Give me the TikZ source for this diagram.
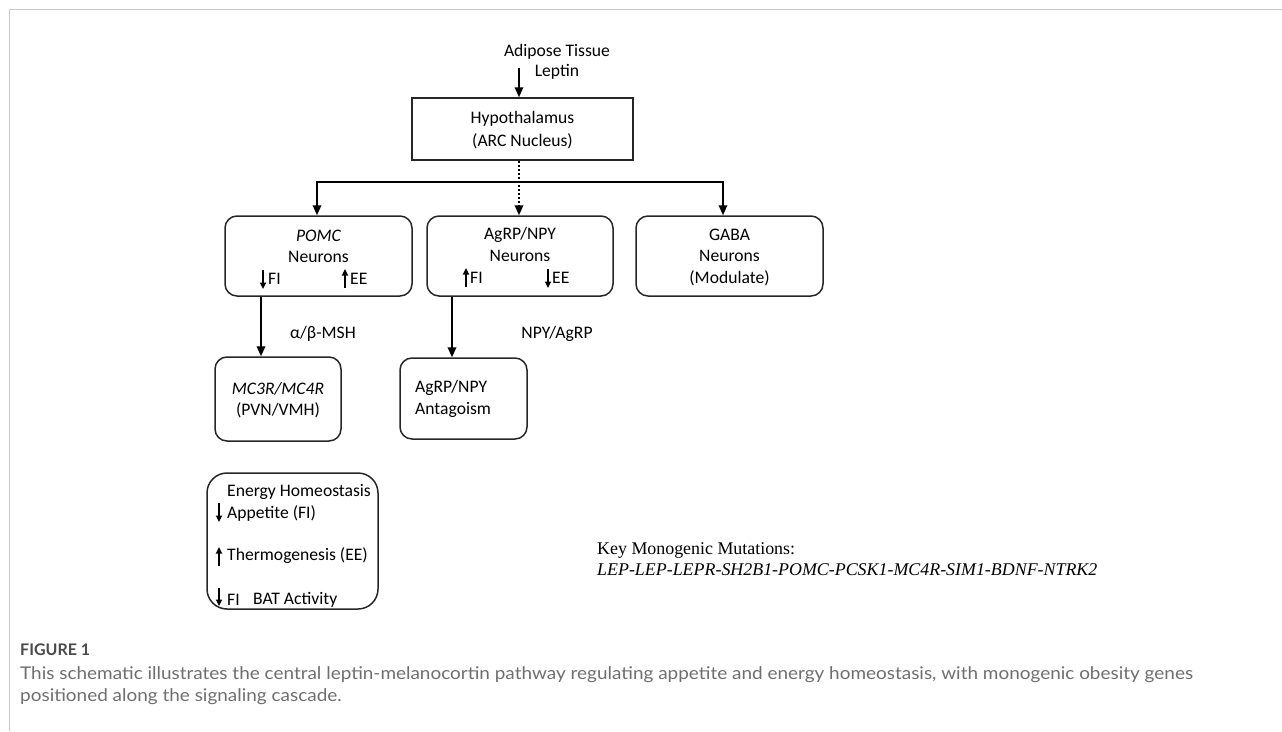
\documentclass[tikz,border=0pt]{standalone}
\usepackage{fontspec}
\usepackage{graphicx}
\setmainfont{Carlito}
\newfontfamily\keyfont{Liberation Serif}
\newfontfamily\capfont{Lato}
\usetikzlibrary{arrows.meta}
\definecolor{framegray}{HTML}{C8C8C8}
\definecolor{capgray}{HTML}{6E6E6E}
\definecolor{capdark}{HTML}{4A4A4A}
\begin{document}
\begin{tikzpicture}[x=1pt,y=-1pt,
  >={Triangle[length=10pt,width=8.5pt]},
  box/.style={draw=black!85, line width=1.5pt, rounded corners=12pt, inner sep=0pt},
  conn/.style={line width=1.8pt, ->},
  small/.style={line width=1.7pt, -{Triangle[length=6.5pt,width=6pt]}},
  txt/.style={font=\fontsize{17.6}{21}\selectfont, inner sep=0pt},
  keytxt/.style={font=\keyfont\fontsize{17.9}{20}\selectfont, inner sep=0pt, anchor=west},
  captxt/.style={inner sep=0pt, anchor=west, text=capgray, font=\capfont\fontsize{17.5}{20}\selectfont}
]
\useasboundingbox (0,0) rectangle (1282,731);
\draw[framegray, line width=1.5pt] (9.5,731) -- (9.5,9.5) -- (1282,9.5);

% top input
\node[txt] (adipose) at (557,52) {Adipose Tissue};
\node[txt] (leptin) at (557,72) {Leptin};
\coordinate (lepin) at (519,68);

% hypothalamus
\node[draw=black!85, line width=1.5pt, minimum width=221pt, minimum height=62pt, inner sep=0pt] (hyp) at (522.5,129) {};
\node[txt] (hyp1) at (522.5,119) {Hypothalamus};
\node[txt] (hyp2) at (522.5,141) {(ARC Nucleus)};

% neuron boxes
\node[box, minimum width=187pt, minimum height=80pt] (pomc) at (318.5,256) {};
\node[txt] (pomc1) at (318.5,236) {\itshape POMC};
\node[txt] (pomc2) at (318.5,257) {Neurons};
\node[txt, anchor=west] (pomcfi) at (268,279) {FI};
\node[txt, anchor=west] (pomcee) at (350,279) {EE};

\node[box, minimum width=186pt, minimum height=80pt] (agrp) at (520,256) {};
\node[txt] (agrp1) at (520,235) {AgRP/NPY};
\node[txt] (agrp2) at (520,256) {Neurons};
\node[txt, anchor=west] (agrpfi) at (470,278) {FI};
\node[txt, anchor=west] (agrpee) at (552,278) {EE};

\node[box, minimum width=187pt, minimum height=80pt] (gaba) at (729.5,256) {};
\node[txt] (gaba1) at (729.5,235) {GABA};
\node[txt] (gaba2) at (729.5,256) {Neurons};
\node[txt] (gaba3) at (729.5,278) {(Modulate)};

% second level
\node[box, minimum width=126pt, minimum height=84pt] (mc) at (278,399) {};
\node[txt] (mc1) at (278,389) {\itshape MC3R/MC4R};
\node[txt] (mc2) at (278,410) {(PVN/VMH)};

\node[box, minimum width=127pt, minimum height=81pt] (ant) at (463.5,398.5) {};
\node[txt, anchor=west] (ant1) at (415,388) {AgRP/NPY};
\node[txt, anchor=west] (ant2) at (415,410) {Antagoism};

\node[txt] (msh) at (323,334) {α/β-MSH};
\node[txt] (npy) at (557,334) {NPY/AgRP};

% energy homeostasis
\node[box, rounded corners=20pt, minimum width=171pt, minimum height=136pt] (en) at (292.5,541) {};
\node[txt, anchor=west] (en1) at (227,492) {Energy Homeostasis};
\node[txt, anchor=west] (en2) at (227,513) {Appetite (FI)};
\node[txt, anchor=west] (en3) at (227,556) {Thermogenesis (EE)};
\node[txt, anchor=west] (en4) at (227,600) {FI};
\node[txt, anchor=west] (en5) at (253,600) {BAT Activity};

% key
\node[keytxt] (key1) at (597,550) {Key Monogenic Mutations:};
\node[keytxt] (key2) at (597,570) {\itshape LEP-LEP-LEPR-SH2B1-POMC-PCSK1-MC4R-SIM1-BDNF-NTRK2};

% caption
\node[inner sep=0pt, anchor=west, text=capdark, font=\capfont\bfseries\fontsize{16}{20}\selectfont] (fig) at (20,650) {FIGURE 1};
\node[captxt] (cap1) at (20,675) {\scalebox{1.082}[1]{This schematic illustrates the central leptin-melanocortin pathway regulating appetite and energy homeostasis, with monogenic obesity genes}};
\node[captxt] (cap2) at (20,697) {\scalebox{1.082}[1]{positioned along the signaling cascade.}};

% connectors
\coordinate (bl) at (317,182);
\coordinate (br) at (723,182);
\coordinate (xp) at (261,0);
\coordinate (xa) at (452,0);
\draw[conn] (lepin) -- (hyp.north -| lepin);
\draw[line width=1.8pt, <->] (pomc.north -| bl) -- (bl) -- (br) -- (gaba.north -| br);
\draw[conn, dash pattern=on 2pt off 2pt] (hyp.south -| lepin) -- (agrp.north -| lepin);
\draw[conn] (pomc.south -| xp) -- (mc.north -| xp);
\draw[conn] (agrp.south -| xa) -- (ant.north -| xa);

% small indicator arrows
\draw[small] (263,270) -- (263,289);
\draw[small] (345,288) -- (345,269);
\draw[small] (466,287) -- (466,268);
\draw[small] (548,269) -- (548,288);
\draw[small] (219,503) -- (219,522);
\draw[small] (219,566) -- (219,547);
\draw[small] (219,588) -- (219,606);
\end{tikzpicture}
\end{document}
